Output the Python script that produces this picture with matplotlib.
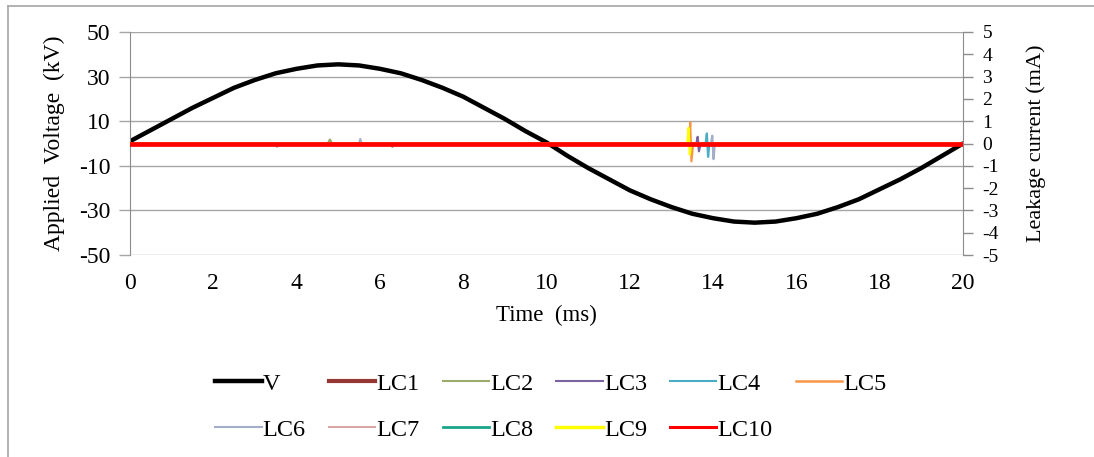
import matplotlib

matplotlib.use("Agg")
import matplotlib.pyplot as plt
from matplotlib.lines import Line2D

# applied voltage every 0.5 ms
TIME_MS = [0.0, 0.5, 1.0, 1.5, 2.0, 2.5, 3.0, 3.5, 4.0, 4.5, 5.0,
           5.5, 6.0, 6.5, 7.0, 7.5, 8.0, 8.5, 9.0, 9.5, 10.0,
           10.5, 11.0, 11.5, 12.0, 12.5, 13.0, 13.5, 14.0, 14.5, 15.0,
           15.5, 16.0, 16.5, 17.0, 17.5, 18.0, 18.5, 19.0, 19.5, 20.0]
VOLTAGE_KV = [1.0, 6.0, 11.0, 16.0, 20.5, 25.0, 28.5, 31.5, 33.5, 35.0, 35.5,
              35.0, 33.5, 31.5, 28.5, 25.0, 21.0, 16.0, 11.0, 5.5, 0.5,
              -5.5, -11.0, -16.0, -21.0, -25.0, -28.5, -31.5, -33.5, -35.0, -35.5,
              -35.0, -33.5, -31.5, -28.5, -25.0, -20.5, -16.0, -11.0, -5.5, 0.0]

# leakage currents: flat at zero apart from the few visible blips
LC1_T, LC1_I = [0.0, 20.0], [0.0, 0.0]
LC2_T = [0.0, 4.75, 4.8, 4.85, 6.25, 6.3, 6.35, 20.0]
LC2_I = [0.0, 0.0, 0.18, 0.0, 0.0, -0.15, 0.0, 0.0]
LC3_T = [0.0, 13.6, 13.63, 13.66, 13.7, 20.0]
LC3_I = [0.0, 0.0, 0.3, -0.35, 0.0, 0.0]
LC4_T = [0.0, 13.82, 13.85, 13.88, 13.91, 20.0]
LC4_I = [0.0, 0.0, 0.45, -0.6, 0.0, 0.0]
LC5_T = [0.0, 13.42, 13.45, 13.48, 13.52, 20.0]
LC5_I = [0.0, 0.0, 0.95, -0.8, 0.0, 0.0]
LC6_T = [0.0, 3.5, 3.53, 3.56, 5.5, 5.53, 5.56, 13.95, 13.98, 14.01, 14.04, 20.0]
LC6_I = [0.0, 0.0, -0.15, 0.0, 0.0, 0.2, 0.0, 0.0, 0.35, -0.7, 0.0, 0.0]
LC7_T, LC7_I = [0.0, 20.0], [0.0, 0.0]
LC8_T, LC8_I = [0.0, 20.0], [0.0, 0.0]
LC9_T = [0.0, 13.38, 13.41, 13.44, 13.47, 20.0]
LC9_I = [0.0, 0.0, 0.7, -0.5, 0.0, 0.0]
LC10_T, LC10_I = [0.0, 20.0], [0.0, 0.0]

LC_NAMES = ["LC1", "LC2", "LC3", "LC4", "LC5", "LC6", "LC7", "LC8", "LC9", "LC10"]
LC_COLORS = ["#953735", "#9bab6a", "#7a63a0", "#4bacc6", "#f79646",
             "#a3aec8", "#d9a5a5", "#1aa58a", "#ffff00", "#ff0000"]
LC_LEGEND_LW = [3.0, 1.5, 1.5, 1.5, 1.8, 1.5, 1.5, 2.0, 2.5, 2.2]

X_TICKS = [0, 2, 4, 6, 8, 10, 12, 14, 16, 18, 20]
V_TICKS = [-50, -30, -10, 10, 30, 50]
I_TICKS = [-5, -4, -3, -2, -1, 0, 1, 2, 3, 4, 5]


def main() -> None:
    plt.rcParams.update({
        "font.family": ["Liberation Serif", "DejaVu Serif"],
        "axes.unicode_minus": False,
    })
    grey = "#8c8c8c"
    fig = plt.figure(figsize=(10.94, 4.57), dpi=100)

    # outer chart-area border (left and top edges are inside the image)
    fig.add_artist(Line2D([8 / 1094, 8 / 1094], [0, 1 - 6 / 457], color="#a6a6a6", lw=1.2))
    fig.add_artist(Line2D([8 / 1094, 1], [1 - 6 / 457, 1 - 6 / 457], color="#a6a6a6", lw=1.2))

    ax = fig.add_axes([130 / 1094, 202 / 457, 833 / 1094, 223 / 457])
    ax2 = ax.twinx()

    ax.plot(TIME_MS, VOLTAGE_KV, color="black", lw=3.2, solid_capstyle="round")
    ax.set_xlim(0, 20)
    ax.set_ylim(-50, 50)
    ax.set_xticks(X_TICKS)
    ax.set_yticks(V_TICKS)
    ax.grid(axis="y", color="#a6a6a6", lw=1.0)
    ax.set_axisbelow(True)
    ax.tick_params(axis="x", length=0, pad=13, labelsize=17)
    ax.tick_params(axis="y", length=8, width=1, color="#a6a6a6", pad=6, labelsize=17)
    for side in ["top", "right", "bottom"]:
        ax.spines[side].set_visible(False)
    ax.spines["left"].set_color(grey)
    ax.set_xlabel("Time  (ms)", fontsize=16.5, labelpad=8)
    ax.set_ylabel("Applied  Voltage  (kV)", fontsize=17, labelpad=10)

    series = [(LC1_T, LC1_I), (LC2_T, LC2_I), (LC3_T, LC3_I), (LC4_T, LC4_I), (LC5_T, LC5_I),
              (LC6_T, LC6_I), (LC7_T, LC7_I), (LC8_T, LC8_I), (LC9_T, LC9_I), (LC10_T, LC10_I)]
    for name, color, (t, i) in zip(LC_NAMES, LC_COLORS, series):
        lw = 3.4 if name == "LC10" else 1.6
        ax2.plot(t, i, color=color, lw=lw)
    ax2.set_ylim(-5, 5)
    ax2.set_yticks(I_TICKS)
    ax2.tick_params(axis="y", length=7, width=1, color=grey, pad=7, labelsize=14)
    for side in ["top", "left", "bottom"]:
        ax2.spines[side].set_visible(False)
    ax2.spines["right"].set_color(grey)
    ax2.set_ylabel("Leakage current (mA)", fontsize=16, labelpad=20)

    # legend laid out row by row like the original (column-major order for matplotlib)
    handles = [Line2D([], [], color="black", lw=3.2)]
    handles += [Line2D([], [], color=c, lw=w) for c, w in zip(LC_COLORS, LC_LEGEND_LW)]
    labels = ["V"] + LC_NAMES
    order = [0, 6, 1, 7, 2, 8, 3, 9, 4, 10, 5]
    fig.legend(
        [handles[k] for k in order],
        [labels[k] for k in order],
        ncol=6,
        loc="center",
        bbox_to_anchor=(0.5035, 0.110),
        frameon=False,
        fontsize=17.5,
        handlelength=1.9,
        handletextpad=0.05,
        columnspacing=0.95,
        labelspacing=0.98,
    )

    fig.savefig("out.png", dpi=100, facecolor="white")
    plt.close(fig)


if __name__ == "__main__":
    main()
